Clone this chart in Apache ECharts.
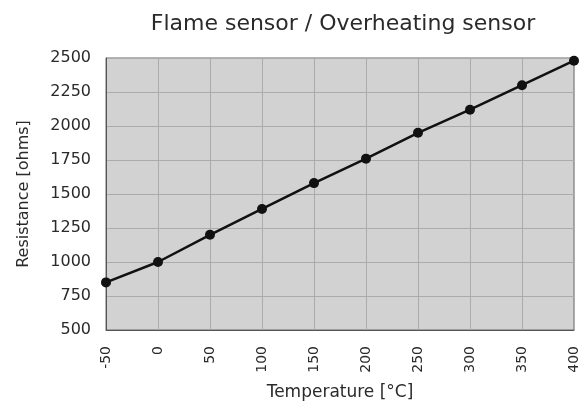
<!DOCTYPE html>
<html>
<head>
<meta charset="utf-8">
<script src="https://cdn.jsdelivr.net/npm/echarts@6/dist/echarts.min.js"></script>
<style>
  html, body { margin: 0; padding: 0; background: #fff; }
  #chart { width: 581px; height: 406px; }
</style>
</head>
<body>
<div id="chart"></div>
<script>
// temperature (°C) vs resistance (ohms)
const temperatures = [-50, 0, 50, 100, 150, 200, 250, 300, 350, 400]
const resistance = [850, 1000, 1200, 1390, 1580, 1760, 1950, 2120, 2300, 2480]

const points = temperatures.map((t, i) => [t, resistance[i]])

const font = 'DejaVu Sans, Verdana, sans-serif'

const chart = echarts.init(document.getElementById('chart'))

chart.setOption({
  backgroundColor: '#fff',
  animation: false,
  title: {
    text: 'Flame sensor / Overheating sensor',
    left: 338,
    top: 8,
    textAlign: 'center',
    textStyle: {
      fontFamily: font,
      fontSize: 22,
      fontWeight: 'normal',
      color: '#2a2a2a'
    }
  },
  grid: {
    left: 106,
    right: 7,
    top: 58,
    bottom: 75,
    show: true,
    backgroundColor: '#d2d2d2',
    borderColor: '#6a6a6a',
    borderWidth: 1
  },
  xAxis: {
    type: 'value',
    min: -50,
    max: 400,
    interval: 50,
    name: 'Temperature [°C]',
    nameLocation: 'middle',
    nameGap: 54,
    nameTextStyle: { fontFamily: font, fontSize: 17, color: '#2a2a2a' },
    axisLine: { show: true, lineStyle: { color: '#555' } },
    axisTick: { show: false },
    axisLabel: {
      rotate: 90,
      margin: 16,
      fontFamily: font,
      fontSize: 14,
      color: '#2a2a2a'
    },
    splitLine: { show: true, lineStyle: { color: '#ababab', width: 1 } }
  },
  yAxis: {
    type: 'value',
    min: 500,
    max: 2500,
    interval: 250,
    name: 'Resistance [ohms]',
    nameLocation: 'middle',
    nameGap: 74,
    nameTextStyle: { fontFamily: font, fontSize: 16, color: '#2a2a2a' },
    axisLine: { show: true, onZero: false, lineStyle: { color: '#555' } },
    axisTick: { show: false },
    axisLabel: {
      margin: 15,
      fontFamily: font,
      fontSize: 16,
      color: '#2a2a2a',
      formatter: (v) => String(v)
    },
    splitLine: { show: true, lineStyle: { color: '#ababab', width: 1 } }
  },
  series: [
    {
      type: 'line',
      data: points,
      symbol: 'circle',
      symbolSize: 10,
      lineStyle: { color: '#111', width: 2.5 },
      itemStyle: { color: '#111' }
    }
  ]
})
</script>
</body>
</html>
